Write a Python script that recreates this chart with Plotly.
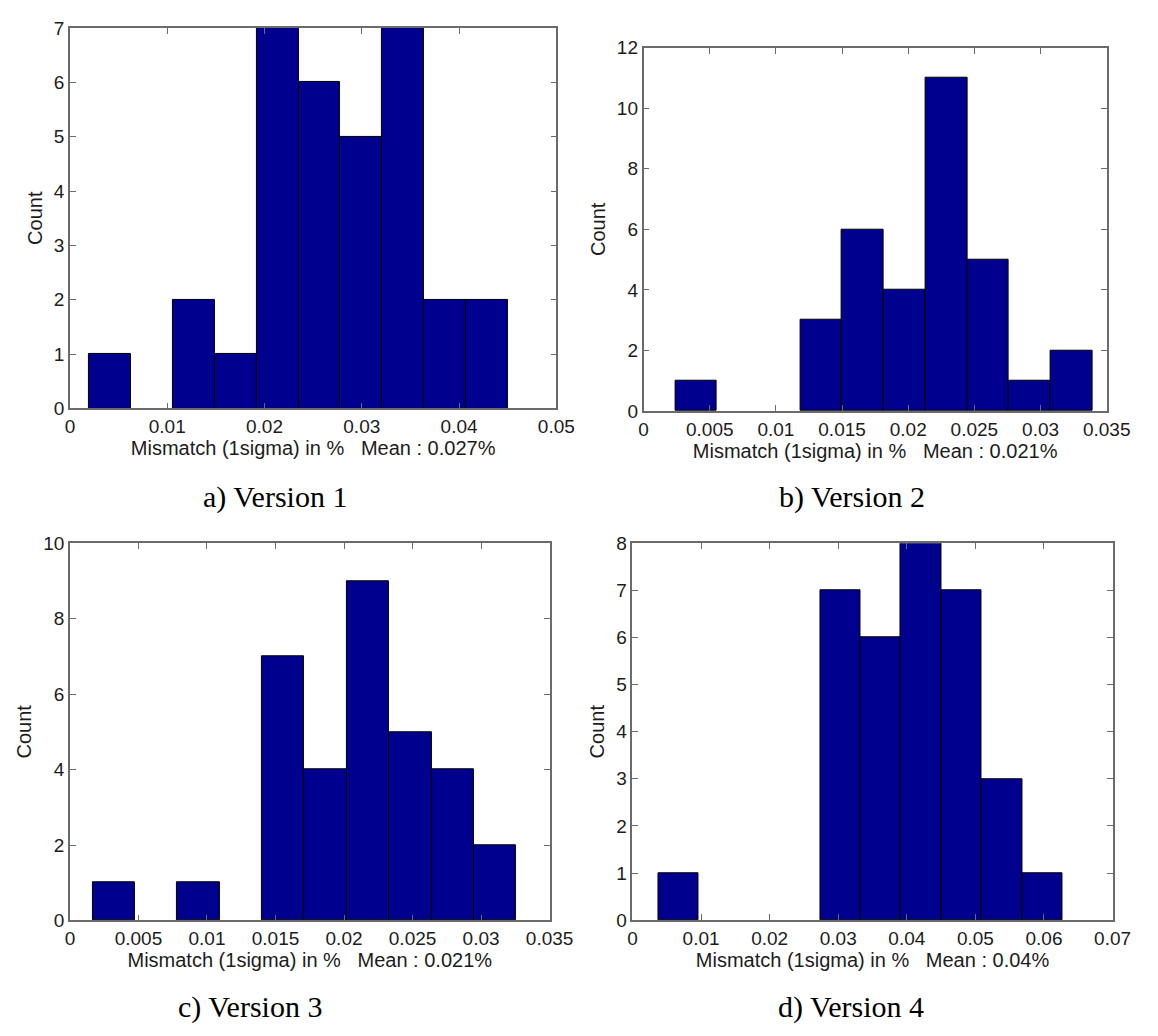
import plotly.graph_objects as go

# Histogram bins for the four versions: first bin edge, bin width and counts
bin_start_v1 = 0.0020
bin_width_v1 = 0.0043
counts_v1 = [1, 0, 2, 1, 7, 6, 5, 7, 2, 2]

bin_start_v2 = 0.0024
bin_width_v2 = 0.00315
counts_v2 = [1, 0, 0, 3, 6, 4, 11, 5, 1, 2]

bin_start_v3 = 0.00166
bin_width_v3 = 0.00309
counts_v3 = [1, 0, 1, 0, 7, 4, 9, 5, 4, 2]

bin_start_v4 = 0.0038
bin_width_v4 = 0.00589
counts_v4 = [1, 0, 0, 0, 7, 6, 8, 7, 3, 1]

# Axis ticks
xticks_v1 = [0, 0.01, 0.02, 0.03, 0.04, 0.05]
xticks_v2 = [0, 0.005, 0.01, 0.015, 0.02, 0.025, 0.03, 0.035]
xticks_v3 = [0, 0.005, 0.01, 0.015, 0.02, 0.025, 0.03, 0.035]
xticks_v4 = [0, 0.01, 0.02, 0.03, 0.04, 0.05, 0.06, 0.07]
yticks_v1 = [0, 1, 2, 3, 4, 5, 6, 7]
yticks_v2 = [0, 2, 4, 6, 8, 10, 12]
yticks_v3 = [0, 2, 4, 6, 8, 10]
yticks_v4 = [0, 1, 2, 3, 4, 5, 6, 7, 8]

means = ["0.027%", "0.021%", "0.021%", "0.04%"]
captions = ["a) Version 1", "b) Version 2", "c) Version 3", "d) Version 4"]

W, H = 1158, 1036
BAR = "#00008F"
TXT = "#1c1c1c"
FRAME = "#6b6b6b"
SANS = "Liberation Sans, Arial, Helvetica, sans-serif"
SERIF = "Liberation Serif, Times New Roman, serif"

# plot-area boxes in pixels: (left, right, top, bottom)
boxes = [
    (66.6, 565.5, 18.3, 406.7),
    (655.0, 1130.0, 38.5, 409.3),
    (66.6, 558.6, 544.3, 929.3),
    (643.6, 1136.0, 544.3, 929.0),
]
caption_pos = [(276.5, 497), (868.6, 497), (251.6, 1018), (867.6, 1018)]

panels = [
    (bin_start_v1, bin_width_v1, counts_v1, xticks_v1, yticks_v1),
    (bin_start_v2, bin_width_v2, counts_v2, xticks_v2, yticks_v2),
    (bin_start_v3, bin_width_v3, counts_v3, xticks_v3, yticks_v3),
    (bin_start_v4, bin_width_v4, counts_v4, xticks_v4, yticks_v4),
]

fig = go.Figure()
layout = {}
annotations = []

for i, ((start, width, counts, xt, yt), box, mean, cap, cpos) in enumerate(
        zip(panels, boxes, means, captions, caption_pos)):
    n = i + 1
    sfx = "" if n == 1 else str(n)
    centers = [start + width * (k + 0.5) for k in range(len(counts))]
    # empty bins get no outline so nothing is drawn on the baseline
    edge_colors = ["#000000" if c > 0 else "rgba(0,0,0,0)" for c in counts]
    fig.add_trace(go.Bar(
        x=centers, y=counts, width=[width] * len(counts),
        marker=dict(color=BAR, line=dict(color=edge_colors, width=1)),
        xaxis="x" + sfx, yaxis="y" + sfx, showlegend=False,
        hovertemplate="%{x:.4f}: %{y}<extra></extra>",
    ))
    l, r, t, b = box
    common = dict(
        showline=True, linecolor=FRAME, linewidth=1.6, mirror="ticks",
        ticks="inside", ticklen=6, tickwidth=1.2, tickcolor=FRAME,
        showgrid=False, zeroline=False,
        tickfont=dict(family=SANS, size=19, color=TXT),
        title_font=dict(family=SANS, size=20, color=TXT),
    )
    layout["xaxis" + sfx] = dict(
        common,
        domain=[l / W, r / W], anchor="y" + sfx,
        range=[xt[0], xt[-1]], tickvals=xt, ticktext=[f"{v:g}" for v in xt],
        title=dict(text=f"Mismatch (1sigma) in %   Mean : {mean}", standoff=4),
    )
    layout["yaxis" + sfx] = dict(
        common,
        domain=[1 - b / H, 1 - t / H], anchor="x" + sfx,
        range=[yt[0], yt[-1]], tickvals=yt, ticktext=[str(v) for v in yt],
        title=dict(text="Count", standoff=6),
    )
    annotations.append(dict(
        text=cap, x=cpos[0] / W, y=1 - cpos[1] / H, xref="paper", yref="paper",
        xanchor="center", yanchor="middle", showarrow=False,
        font=dict(family=SERIF, size=30, color="#000000"),
    ))

fig.update_layout(
    **layout,
    annotations=annotations,
    width=W, height=H,
    margin=dict(l=0, r=0, t=0, b=0),
    paper_bgcolor="white", plot_bgcolor="white",
    bargap=0,
)

fig.write_html("out.html")
